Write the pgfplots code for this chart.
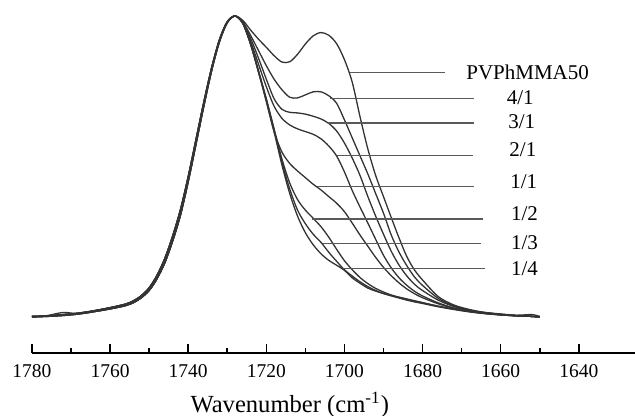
\documentclass[border=0pt]{standalone}
\usepackage{pgfplots}
\pgfplotsset{compat=1.18}
\usepackage{pgfplotstable}
\usepackage{fontspec}
\setmainfont{Liberation Serif}

% a = PVPhMMA50, b = 4/1, c = 3/1, d = 2/1, e = 1/1, f = 1/2, g = 1/3, h = 1/4
\pgfplotstableread{
x    a     b     c     d     e     f     g     h
1780 0.000 0.002 0.000 0.002 0.000 0.002 0.000 0.002
1776 0.005 0.004 0.002 0.004 0.002 0.004 0.002 0.004
1772 0.015 0.008 0.005 0.008 0.005 0.008 0.005 0.008
1768 0.011 0.013 0.010 0.013 0.010 0.013 0.010 0.013
1764 0.018 0.021 0.018 0.021 0.018 0.021 0.018 0.021
1760 0.027 0.031 0.027 0.031 0.027 0.031 0.027 0.031
1756 0.038 0.043 0.038 0.043 0.038 0.043 0.038 0.043
1754 0.048 0.054 0.048 0.054 0.048 0.054 0.048 0.054
1752 0.064 0.071 0.064 0.071 0.064 0.071 0.064 0.071
1750 0.088 0.097 0.088 0.097 0.088 0.097 0.088 0.097
1748 0.127 0.138 0.127 0.138 0.127 0.138 0.127 0.138
1746 0.180 0.194 0.180 0.194 0.180 0.194 0.180 0.194
1744 0.252 0.268 0.252 0.268 0.252 0.268 0.252 0.268
1742 0.338 0.356 0.338 0.356 0.338 0.356 0.338 0.356
1740 0.450 0.466 0.450 0.466 0.450 0.466 0.450 0.466
1738 0.575 0.590 0.575 0.590 0.575 0.590 0.575 0.590
1736 0.701 0.714 0.701 0.714 0.701 0.714 0.701 0.714
1734 0.819 0.828 0.819 0.828 0.819 0.828 0.819 0.828
1732 0.915 0.921 0.915 0.921 0.915 0.921 0.915 0.921
1730 0.978 0.981 0.978 0.981 0.978 0.981 0.978 0.981
1728 1.000 1.000 1.000 1.000 1.000 1.000 1.000 1.000
1726 0.985 0.980 0.978 0.976 0.975 0.975 0.975 0.975
1724 0.953 0.935 0.925 0.915 0.905 0.907 0.906 0.905
1722 0.923 0.885 0.860 0.840 0.815 0.818 0.816 0.813
1720 0.896 0.835 0.790 0.765 0.715 0.725 0.722 0.720
1718 0.868 0.790 0.725 0.700 0.615 0.625 0.620 0.615
1716 0.847 0.755 0.690 0.660 0.548 0.525 0.515 0.505
1714 0.848 0.730 0.680 0.638 0.510 0.445 0.425 0.410
1712 0.873 0.728 0.678 0.625 0.485 0.390 0.355 0.335
1710 0.907 0.738 0.674 0.616 0.463 0.355 0.310 0.280
1708 0.934 0.748 0.667 0.607 0.441 0.328 0.275 0.240
1706 0.945 0.748 0.658 0.592 0.422 0.300 0.248 0.210
1704 0.936 0.735 0.643 0.568 0.400 0.265 0.215 0.188
1702 0.908 0.710 0.618 0.535 0.378 0.225 0.185 0.172
1700 0.855 0.655 0.578 0.482 0.350 0.187 0.157 0.155
1698 0.780 0.595 0.528 0.420 0.312 0.157 0.136 0.130
1696 0.665 0.535 0.470 0.365 0.272 0.131 0.117 0.112
1694 0.558 0.475 0.400 0.312 0.235 0.111 0.101 0.096
1692 0.470 0.410 0.335 0.258 0.198 0.095 0.088 0.086
1690 0.400 0.345 0.275 0.205 0.165 0.083 0.078 0.078
1688 0.330 0.272 0.218 0.163 0.137 0.073 0.070 0.072
1686 0.262 0.215 0.172 0.130 0.113 0.065 0.063 0.066
1684 0.200 0.170 0.136 0.105 0.093 0.058 0.056 0.060
1682 0.155 0.132 0.108 0.085 0.077 0.052 0.050 0.054
1680 0.123 0.105 0.088 0.070 0.064 0.047 0.045 0.048
1676 0.068 0.062 0.056 0.047 0.044 0.036 0.034 0.036
1672 0.040 0.037 0.035 0.030 0.029 0.026 0.025 0.027
1668 0.025 0.023 0.021 0.019 0.019 0.018 0.017 0.020
1664 0.015 0.014 0.013 0.012 0.012 0.012 0.011 0.015
1660 0.009 0.009 0.008 0.007 0.007 0.008 0.007 0.010
1656 0.005 0.005 0.004 0.004 0.004 0.004 0.004 0.006
1652 0.002 0.002 0.002 0.002 0.002 0.002 0.002 0.008
1650 0.000 0.001 0.000 0.000 0.000 0.000 0.000 0.002
}\spectra

\begin{document}
\begin{tikzpicture}[
  curve/.style={black!80, line width=0.65pt, smooth, tension=0.5},
  leader/.style={black!65, line width=0.6pt},
  lab/.style={font=\fontsize{10.5}{12}\selectfont, anchor=center},
]
\begin{axis}[
  scale only axis, width=301.5pt, height=176.35pt,
  xmin=1625.6, xmax=1780, ymin=-0.1186, ymax=1.0532,
  x dir=reverse,
  axis x line=bottom, axis y line=none,
  axis line style={-, line width=0.9pt, black},
  xtick={1640,1660,...,1780}, minor x tick num=1,
  tick align=inside,
  major tick length=4.5pt, minor tick length=2.2pt,
  every tick/.style={black, line width=0.8pt},
  ytick=\empty,
  xticklabel style={font=\fontsize{9.75}{11}\selectfont, yshift=-2.4pt},
  /pgf/number format/assume math mode=true,
  /pgf/number format/1000 sep={},
  xlabel={Wavenumber (cm\textsuperscript{-1})},
  xlabel style={at={(axis cs:1714,-0.1186)}, anchor=center, yshift=-26pt,
    font=\fontsize{12.3}{14}\selectfont},
  clip=false,
]
\addplot[curve] table[x=x, y=h] {\spectra};
\addplot[curve] table[x=x, y=g] {\spectra};
\addplot[curve] table[x=x, y=f] {\spectra};
\addplot[curve] table[x=x, y=e] {\spectra};
\addplot[curve] table[x=x, y=d] {\spectra};
\addplot[curve] table[x=x, y=c] {\spectra};
\addplot[curve] table[x=x, y=b] {\spectra};
\addplot[curve] table[x=x, y=a] {\spectra};

\addplot[leader] coordinates {(1698.65,0.8116) (1674.35,0.8116)};
\addplot[leader] coordinates {(1703.8,0.7252) (1666.9,0.7252)};
\addplot[leader] coordinates {(1704.3,0.6445) (1666.7,0.6445)};
\addplot[leader] coordinates {(1702.0,0.5372) (1667.2,0.5372)};
\addplot[leader] coordinates {(1707.1,0.4329) (1666.7,0.4329)};
\addplot[leader] coordinates {(1708.4,0.3256) (1664.6,0.3256)};
\addplot[leader] coordinates {(1705.6,0.2449) (1665.1,0.2449)};
\addplot[leader] coordinates {(1700.4,0.1618) (1664.1,0.1618)};

\node[lab] at (axis cs:1653.1,0.8116) {PVPhMMA50};
\node[lab] at (axis cs:1655.0,0.7286) {4/1};
\node[lab] at (axis cs:1654.6,0.6488) {3/1};
\node[lab] at (axis cs:1654.3,0.5548) {2/1};
\node[lab] at (axis cs:1654.1,0.4495) {1/1};
\node[lab] at (axis cs:1653.9,0.3445) {1/2};
\node[lab] at (axis cs:1653.9,0.2468) {1/3};
\node[lab] at (axis cs:1653.9,0.1618) {1/4};

\coordinate (BL) at (axis cs:1780,-0.1186);
\coordinate (TR) at (axis cs:1625.6,1.0532);
\end{axis}
\pgfresetboundingbox
\path ([shift={(-16pt,-31.65pt)}]BL) rectangle (TR);
\end{tikzpicture}
\end{document}
